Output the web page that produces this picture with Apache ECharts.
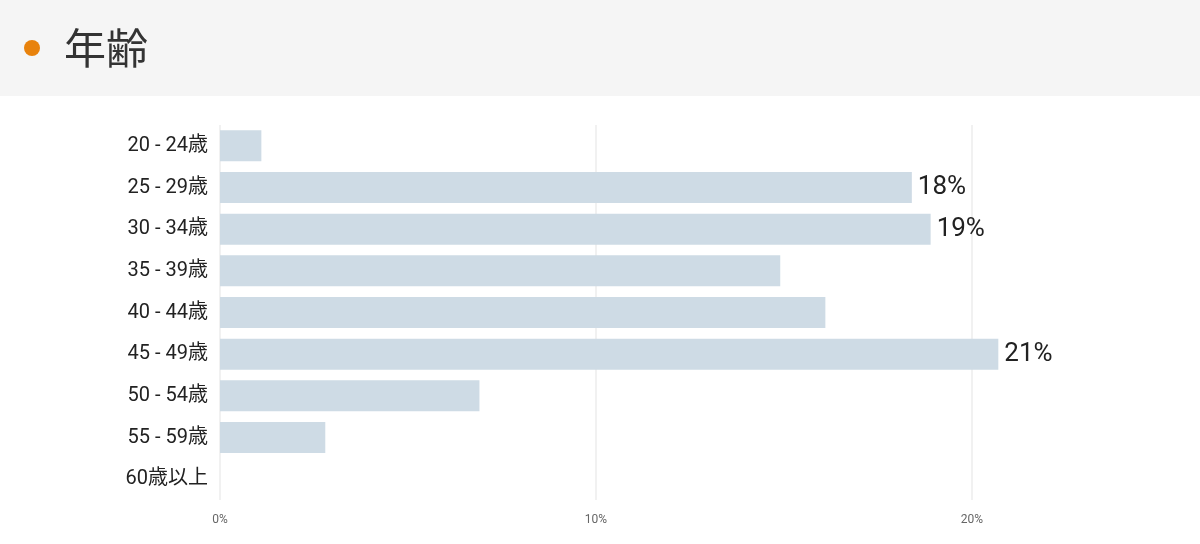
<!DOCTYPE html>
<html><head><meta charset="utf-8">
<script src="https://cdn.jsdelivr.net/npm/echarts@6/dist/echarts.min.js"></script>
<style>html,body{margin:0;padding:0;background:#fff}#c{width:1200px;height:544px}</style>
</head><body><div id="c"></div>
<script>
const categories = ["20 - 24歳","25 - 29歳","30 - 34歳","35 - 39歳","40 - 44歳","45 - 49歳","50 - 54歳","55 - 59歳","60歳以上"];
const values = [1.1, 18.4, 18.9, 14.9, 16.1, 20.7, 6.9, 2.8, 0];
const labels = ["", "18%", "19%", "", "", "21%", "", "", ""];
const title = "年齢";
const chart = echarts.init(document.getElementById('c'));
chart.setOption({
  animation: false,
  graphic: [
    {type:'rect', shape:{x:0,y:0,width:1200,height:96}, style:{fill:'#f5f5f5'}},
    {type:'circle', shape:{cx:32,cy:48,r:8}, style:{fill:'#e8820c'}},
    {type:'text', left:64, top:27, style:{text:title, fontSize:42, fill:'#333', fontFamily:'Noto Sans CJK JP'}}
  ],
  grid: {left:220, right:40, top:125, bottom:44},
  xAxis: {type:'value', min:0, max:25, interval:10,
    axisLine:{show:false}, axisTick:{show:false},
    axisLabel:{showMaxLabel:false, formatter:'{value}%', color:'#666', fontSize:12, margin:14, fontFamily:'Roboto'},
    splitLine:{lineStyle:{color:['#ececec','#ececec','#ececec','rgba(0,0,0,0)'], width:1.5}}},
  yAxis: {type:'category', data:categories, inverse:true,
    axisLine:{show:false}, axisTick:{show:false},
    axisLabel:{color:'#222', fontSize:20, margin:12, fontFamily:'Roboto, Noto Sans CJK JP'}},
  series: [{type:'bar', data:values, barWidth:31, itemStyle:{color:'#cedbe5'},
    label:{show:true, position:'right', distance:6, fontSize:26, color:'#222', fontFamily:'Roboto',
      formatter:p=>labels[p.dataIndex]}}]
});
</script></body></html>
